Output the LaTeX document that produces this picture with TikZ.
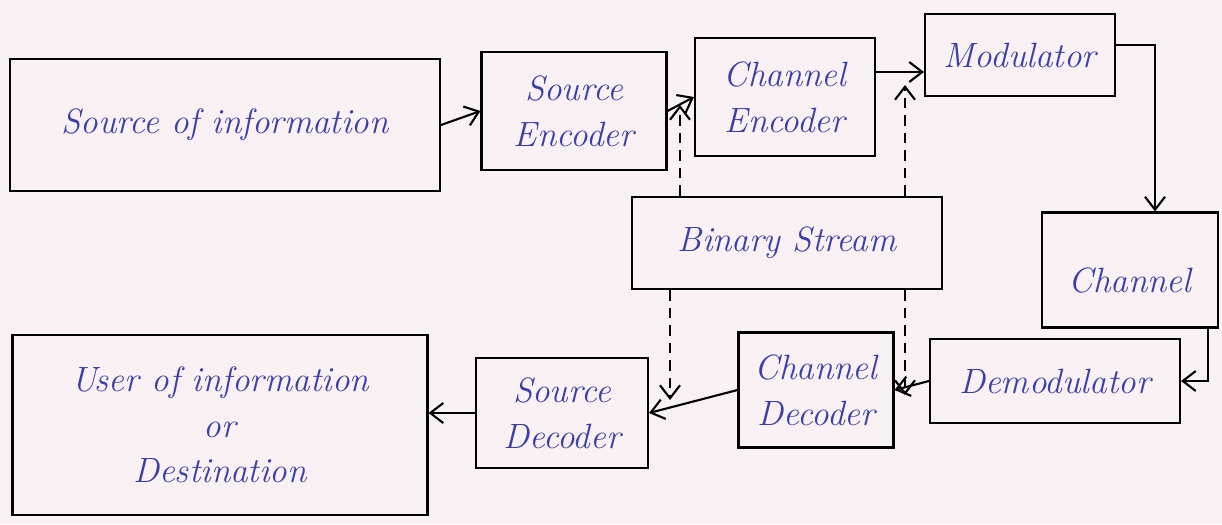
\documentclass[tikz,border=0pt]{standalone}
\usepackage{xcolor}
\usepackage{tikz}
\usetikzlibrary{arrows.meta,calc,positioning}
\definecolor{ink}{HTML}{3B40A8}
\definecolor{paper}{HTML}{FAF1F5}

\begin{document}
\begin{tikzpicture}[x=0.02cm,y=-0.02cm,>={Straight Barb[length=2.6mm,width=4mm]},line width=1.2pt,
  box/.style={draw,align=center,text=ink,font=\fontsize{20}{26}\selectfont\itshape},
  tap/.style={dash pattern=on 6pt off 4pt,->}]
  \fill[paper] (0,0) rectangle (1222,524);
  \useasboundingbox (0,0) rectangle (1222,524);
  % transmitter row
  \node[box,minimum width=8.6cm,minimum height=2.64cm] (src) at (225,125) {Source of information};
  \node[box,minimum width=3.7cm,minimum height=2.36cm] (senc) at (574,111) {Source\\Encoder};
  \node[box,minimum width=3.6cm,minimum height=2.36cm] (cenc) at (785,97) {Channel\\Encoder};
  \node[box,minimum width=3.8cm,minimum height=1.64cm] (mod) at (1020,55) {Modulator};
  \node[box,minimum width=3.52cm,minimum height=2.3cm] (chan) at (1130,270) {\\Channel};
  \node[box,minimum width=6.2cm,minimum height=1.84cm] (bin) at (787,243) {Binary Stream};
  % receiver row
  \node[box,minimum width=5cm,minimum height=1.68cm] (demod) at (1055,381) {Demodulator};
  \node[box,minimum width=3.1cm,minimum height=2.3cm] (cdec) at (816,390) {Channel\\Decoder};
  \node[box,minimum width=3.44cm,minimum height=2.2cm] (sdec) at (562,413) {Source\\Decoder};
  \node[box,minimum width=8.3cm,minimum height=3.6cm] (user) at (220,425) {User of information\\or\\Destination};
  \draw[->] (src.east) -- (senc.west);
  \draw[->] (senc.east) -- (cenc.west);
  \draw[->] (cenc.east |- 0,72) -- (mod.west |- 0,72);
  \draw[->] (mod.east |- 0,45) -| (1155,0 |- chan.north);
  \draw[->] (1208,0 |- chan.south) |- (demod.east);
  \draw[->] (demod.west) -- (cdec.east);
  \draw[->] (cdec.west) -- (sdec.east);
  \draw[->] (sdec.west) -- (user.east |- sdec.west);
  % binary stream taps
  \coordinate (t1) at (680,105);
  \coordinate (t2) at (905,85);
  \coordinate (b1) at (670,400);
  \coordinate (b2) at (905,395);
  \draw[tap] (t1 |- bin.north) -- (t1);
  \draw[tap] (t2 |- bin.north) -- (t2);
  \draw[tap] (b1 |- bin.south) -- (b1);
  \draw[tap] (b2 |- bin.south) -- (b2);
\end{tikzpicture}
\end{document}
